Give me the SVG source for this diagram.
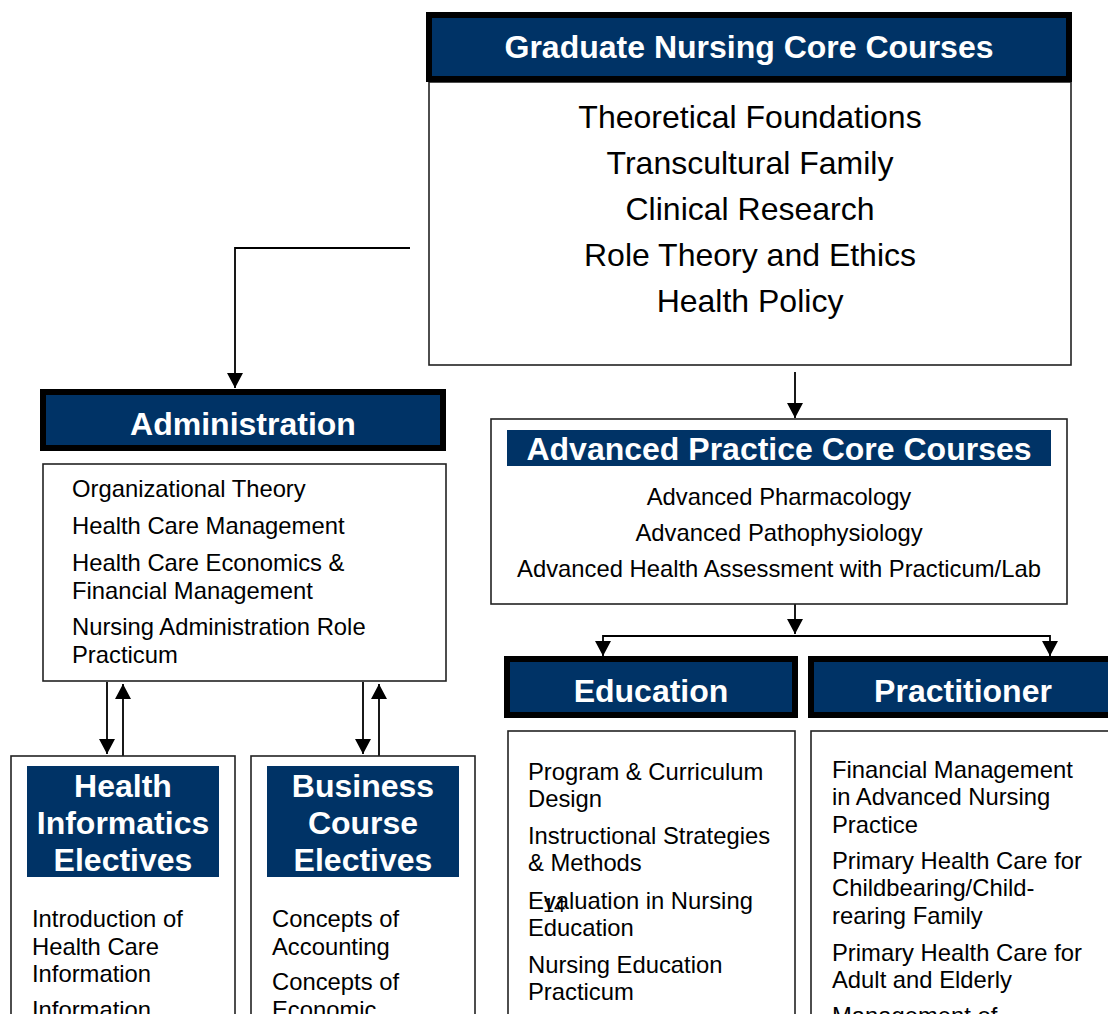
<svg xmlns="http://www.w3.org/2000/svg" width="1108" height="1014" viewBox="0 0 1108 1014">
  <style>
    text { font-family: "Liberation Sans", Arial, sans-serif; }
    .hdr { fill: #003366; stroke: #000; stroke-width: 6; }
    .band { fill: #003366; }
    .box { fill: #fff; stroke: #222; stroke-width: 1.6; }
    .title { fill: #fff; font-weight: bold; font-size: 32px; text-anchor: middle; }
    .big { fill: #000; font-size: 32px; text-anchor: middle; }
    .mid { fill: #000; font-size: 23.8px; text-anchor: middle; }
    .item { fill: #000; font-size: 23.8px; }
    .wire { fill: none; stroke: #000; stroke-width: 1.8; }
  </style>
  <defs>
    <marker id="arrow" markerUnits="userSpaceOnUse" markerWidth="16" markerHeight="16" viewBox="0 0 16 16" refX="15" refY="8" orient="auto">
      <path d="M0,0 L15,8 L0,16 z" fill="#000"/>
    </marker>
  </defs>
  <rect width="1108" height="1014" fill="#fff"/>

  <!-- connectors -->
  <g id="connectors">
    <path class="wire" d="M410,248 H235 V388" marker-end="url(#arrow)"/>
    <path class="wire" d="M795,372 V418" marker-end="url(#arrow)"/>
    <path class="wire" d="M795,604 V634" marker-end="url(#arrow)"/>
    <path class="wire" d="M795,636 H603 V656" marker-end="url(#arrow)"/>
    <path class="wire" d="M795,636 H1050 V656" marker-end="url(#arrow)"/>
    <path class="wire" d="M107,682 V754" marker-end="url(#arrow)"/>
    <path class="wire" d="M123,756 V684" marker-end="url(#arrow)"/>
    <path class="wire" d="M363,682 V754" marker-end="url(#arrow)"/>
    <path class="wire" d="M379,756 V684" marker-end="url(#arrow)"/>
  </g>

  <!-- graduate core -->
  <g id="graduate-core">
    <rect class="box" x="429" y="82" width="642" height="283"/>
    <rect class="hdr" x="429" y="15" width="640" height="64"/>
    <text class="title" x="749" y="58">Graduate Nursing Core Courses</text>
    <text class="big" x="750" y="128">Theoretical Foundations</text>
    <text class="big" x="750" y="174">Transcultural Family</text>
    <text class="big" x="750" y="220">Clinical Research</text>
    <text class="big" x="750" y="266">Role Theory and Ethics</text>
    <text class="big" x="750" y="312">Health Policy</text>
  </g>

  <!-- administration -->
  <g id="administration">
    <rect class="hdr" x="43" y="392" width="400" height="56"/>
    <text class="title" x="243" y="435">Administration</text>
    <rect class="box" x="43" y="464" width="403" height="217"/>
    <text class="item" x="72" y="497">Organizational Theory</text>
    <text class="item" x="72" y="534">Health Care Management</text>
    <text class="item" x="72" y="571">Health Care Economics &amp;</text>
    <text class="item" x="72" y="599">Financial Management</text>
    <text class="item" x="72" y="635">Nursing Administration Role</text>
    <text class="item" x="72" y="663">Practicum</text>
  </g>

  <!-- advanced practice core -->
  <g id="advanced-practice">
    <rect class="box" x="491" y="419" width="576" height="185"/>
    <rect class="band" x="507" y="430" width="544" height="36"/>
    <text class="title" x="779" y="460">Advanced Practice Core Courses</text>
    <text class="mid" x="779" y="505">Advanced Pharmacology</text>
    <text class="mid" x="779" y="541">Advanced Pathophysiology</text>
    <text class="mid" x="779" y="577">Advanced Health Assessment with Practicum/Lab</text>
  </g>

  <!-- education -->
  <g id="education">
    <rect class="hdr" x="507" y="659" width="288" height="56"/>
    <text class="title" x="651" y="702">Education</text>
    <rect class="box" x="508" y="731" width="287" height="300"/>
    <text class="item" x="528" y="780">Program &amp; Curriculum</text>
    <text class="item" x="528" y="807">Design</text>
    <text class="item" x="528" y="844">Instructional Strategies</text>
    <text class="item" x="528" y="871">&amp; Methods</text>
    <text class="item" x="528" y="909">Evaluation in Nursing</text>
    <text class="item" x="528" y="936">Education</text>
    <text class="item" x="528" y="973">Nursing Education</text>
    <text class="item" x="528" y="1000">Practicum</text>
  </g>

  <!-- practitioner -->
  <g id="practitioner">
    <rect class="hdr" x="811" y="659" width="310" height="56"/>
    <text class="title" x="963" y="702">Practitioner</text>
    <rect class="box" x="811" y="731" width="310" height="300"/>
    <text class="item" x="832" y="778">Financial Management</text>
    <text class="item" x="832" y="805">in Advanced Nursing</text>
    <text class="item" x="832" y="833">Practice</text>
    <text class="item" x="832" y="869">Primary Health Care for</text>
    <text class="item" x="832" y="896">Childbearing/Child-</text>
    <text class="item" x="832" y="924">rearing Family</text>
    <text class="item" x="832" y="961">Primary Health Care for</text>
    <text class="item" x="832" y="988">Adult and Elderly</text>
    <text class="item" x="832" y="1024">Management of</text>
  </g>

  <!-- health informatics electives -->
  <g id="health-informatics">
    <rect class="box" x="11" y="756" width="224" height="280"/>
    <rect class="band" x="27" y="766" width="192" height="111"/>
    <text class="title" x="123" y="797">Health</text>
    <text class="title" x="123" y="834">Informatics</text>
    <text class="title" x="123" y="871">Electives</text>
    <text class="item" x="32" y="927">Introduction of</text>
    <text class="item" x="32" y="955">Health Care</text>
    <text class="item" x="32" y="982">Information</text>
    <text class="item" x="32" y="1018">Information</text>
  </g>

  <!-- business course electives -->
  <g id="business">
    <rect class="box" x="251" y="756" width="224" height="280"/>
    <rect class="band" x="267" y="766" width="192" height="111"/>
    <text class="title" x="363" y="797">Business</text>
    <text class="title" x="363" y="834">Course</text>
    <text class="title" x="363" y="871">Electives</text>
    <text class="item" x="272" y="927">Concepts of</text>
    <text class="item" x="272" y="955">Accounting</text>
    <text class="item" x="272" y="990">Concepts of</text>
    <text class="item" x="272" y="1018">Economic</text>
  </g>

  <!-- page number -->
  <text x="543" y="912" font-family="'Liberation Serif', 'Times New Roman', serif" font-size="20" fill="#000">14</text>
</svg>
